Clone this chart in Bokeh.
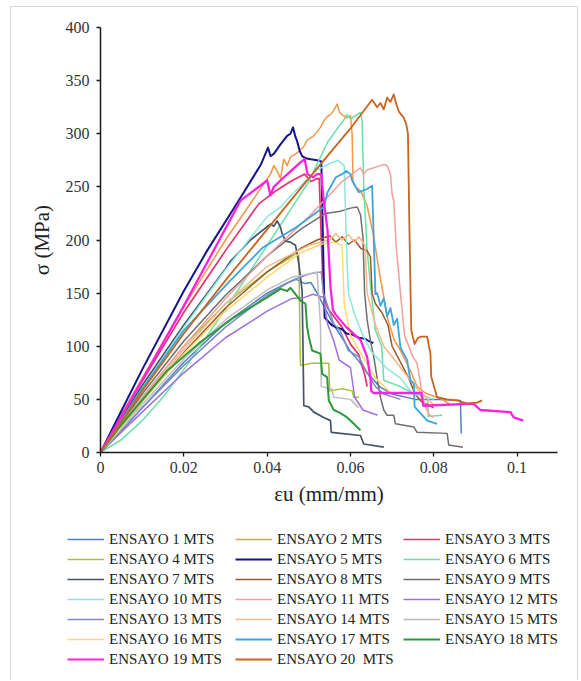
from bokeh.plotting import figure
from bokeh.models import Legend, LegendItem, FixedTicker
from bokeh.embed import file_html
from bokeh.resources import INLINE

# ---------------- data (strain mm/mm, stress MPa) ----------------
eps_1 = [0, 0.005, 0.01, 0.02, 0.03, 0.04, 0.045, 0.047, 0.049, 0.0505, 0.052, 0.054, 0.056, 0.058, 0.060, 0.062, 0.064, 0.067, 0.070, 0.0755, 0.080, 0.0864, 0.0866]
sig_1 = [0, 20, 42, 85, 122, 150, 160, 163, 159, 160, 150, 135, 120, 108, 95, 86, 75, 62, 55, 50, 50, 49, 18]

eps_2 = [0, 0.005, 0.01, 0.02, 0.03, 0.0408, 0.0416, 0.0424, 0.0432, 0.0440, 0.0448, 0.0456, 0.0472, 0.0488, 0.0496, 0.0512, 0.0528, 0.0536, 0.0544, 0.0552, 0.056, 0.0568, 0.0574, 0.058, 0.059, 0.060, 0.0604, 0.0606, 0.0612, 0.0625, 0.064, 0.0655, 0.067, 0.069, 0.0705, 0.072, 0.0745, 0.076, 0.078, 0.082, 0.084]
sig_2 = [0, 36, 70, 137, 200, 262, 270, 265, 258, 276, 270, 278, 282, 288, 294, 298, 306, 312, 316, 318, 322, 328, 320, 318, 315, 317, 300, 255, 250, 246, 232, 205, 168, 125, 106, 96, 76, 62, 56, 50, 45]

eps_3 = [0, 0.005, 0.01, 0.02, 0.03, 0.038, 0.042, 0.044, 0.046, 0.048, 0.049, 0.0505, 0.0515, 0.0525, 0.053, 0.0535, 0.0545, 0.056, 0.058, 0.060, 0.062, 0.0635, 0.064]
sig_3 = [0, 34, 67, 132, 190, 234, 246, 251, 256, 260, 262, 255, 257, 258, 200, 150, 136, 128, 118, 102, 92, 72, 62]

eps_4 = [0, 0.005, 0.01, 0.02, 0.03, 0.04, 0.045, 0.0472, 0.0476, 0.0478, 0.048, 0.0508, 0.0548, 0.0550, 0.058, 0.0604, 0.0608, 0.062]
sig_4 = [0, 26, 52, 100, 140, 170, 182, 188, 186, 130, 82, 84, 84, 58, 60, 58, 52, 52]

eps_5 = [0, 0.005, 0.01, 0.02, 0.0256, 0.033, 0.0385, 0.0402, 0.0408, 0.0416, 0.0432, 0.0448, 0.0456, 0.0462, 0.0468, 0.0472, 0.0478, 0.0484, 0.0492, 0.0505, 0.052, 0.053, 0.0534, 0.0538, 0.0545, 0.0555, 0.0565, 0.058, 0.059, 0.0605, 0.062, 0.0635, 0.0648, 0.0655]
sig_5 = [0, 39, 78, 152, 190, 236, 271, 287, 279, 281, 290, 298, 300, 306, 297, 293, 284, 279, 277, 276, 275, 274, 200, 127, 124, 120, 118, 116, 112, 111, 108, 107, 104, 103]

eps_6 = [0, 0.005, 0.01, 0.015, 0.02, 0.03, 0.04, 0.05, 0.0545, 0.0576, 0.0584, 0.0592, 0.0600, 0.0608, 0.0616, 0.0624, 0.0628, 0.0632, 0.064, 0.065, 0.066, 0.0675, 0.068, 0.072, 0.075, 0.0785, 0.0787, 0.082]
sig_6 = [0, 12, 30, 52, 78, 135, 195, 255, 292, 309, 313, 318, 314, 316, 318, 320, 312, 250, 190, 150, 115, 100, 68, 62, 56, 52, 34, 35]

eps_7 = [0, 0.005, 0.01, 0.02, 0.03, 0.0312, 0.036, 0.0408, 0.0416, 0.0424, 0.0432, 0.0436, 0.0444, 0.0456, 0.0468, 0.0472, 0.0476, 0.048, 0.0484, 0.0486, 0.0488, 0.050, 0.0512, 0.0536, 0.0552, 0.0554, 0.0576, 0.0624, 0.0632, 0.068]
sig_7 = [0, 32, 63, 120, 173, 180, 200, 215, 213, 218, 212, 206, 199, 198, 195, 187, 178, 165, 152, 100, 44, 43, 38, 33, 30, 19, 18, 16, 8, 5]

eps_8 = [0, 0.005, 0.01, 0.02, 0.03, 0.04, 0.048, 0.052, 0.055, 0.0565, 0.058, 0.0595, 0.061, 0.0625, 0.064, 0.0648, 0.0652, 0.066, 0.0675, 0.069, 0.070, 0.072, 0.074, 0.0755, 0.077, 0.080]
sig_8 = [0, 24, 48, 94, 136, 170, 192, 200, 204, 198, 203, 196, 200, 192, 190, 184, 150, 140, 132, 120, 100, 85, 70, 55, 48, 42]

eps_9 = [0, 0.005, 0.01, 0.02, 0.03, 0.04, 0.048, 0.054, 0.0576, 0.0600, 0.0616, 0.0624, 0.0630, 0.0634, 0.0640, 0.0648, 0.0656, 0.0664, 0.0672, 0.0680, 0.0688, 0.0704, 0.0708, 0.0752, 0.0760, 0.0832, 0.0836, 0.087]
sig_9 = [0, 28, 55, 105, 148, 185, 210, 225, 227, 230, 231, 224, 203, 150, 125, 105, 90, 70, 52, 40, 35, 35, 27, 24, 19, 18, 7, 5]

eps_10 = [0, 0.005, 0.01, 0.02, 0.03, 0.04, 0.0432, 0.046, 0.0496, 0.052, 0.055, 0.057, 0.0585, 0.059, 0.0595, 0.061, 0.063, 0.065, 0.0685, 0.072, 0.075, 0.0785, 0.080]
sig_10 = [0, 30, 60, 118, 172, 222, 231, 243, 257, 266, 272, 275, 270, 200, 150, 130, 110, 95, 80, 70, 55, 52, 50]

eps_11 = [0, 0.005, 0.01, 0.02, 0.03, 0.04, 0.05, 0.058, 0.0624, 0.0632, 0.064, 0.0656, 0.0672, 0.068, 0.0688, 0.0696, 0.070, 0.0704, 0.071, 0.072, 0.073, 0.075, 0.076, 0.077, 0.078, 0.079, 0.080]
sig_11 = [0, 26, 52, 100, 145, 185, 222, 255, 268, 262, 266, 268, 270, 271, 270, 262, 243, 237, 193, 150, 110, 90, 84, 60, 43, 35, 33]

eps_12 = [0, 0.005, 0.01, 0.02, 0.03, 0.04, 0.046, 0.049, 0.051, 0.0535, 0.0545, 0.056, 0.0573, 0.060, 0.061, 0.063, 0.0665]
sig_12 = [0, 19, 38, 75, 108, 133, 145, 146, 149, 146, 121, 105, 87, 80, 52, 40, 35]

eps_13 = [0, 0.005, 0.01, 0.02, 0.03, 0.04, 0.046, 0.050, 0.053, 0.0535, 0.056, 0.0575, 0.0595, 0.062, 0.064, 0.066, 0.068, 0.072]
sig_13 = [0, 21, 42, 82, 118, 148, 162, 168, 170, 150, 121, 115, 96, 90, 75, 62, 55, 50]

eps_14 = [0, 0.005, 0.01, 0.02, 0.03, 0.04, 0.05, 0.055, 0.0565, 0.058, 0.0595, 0.061, 0.062, 0.0635, 0.064, 0.066, 0.068, 0.072, 0.076, 0.080]
sig_14 = [0, 25, 50, 97, 140, 175, 195, 200, 206, 200, 205, 198, 203, 195, 150, 120, 100, 80, 60, 45]

eps_15 = [0, 0.005, 0.01, 0.02, 0.03, 0.04, 0.046, 0.050, 0.052, 0.0528, 0.053, 0.0555, 0.056, 0.060, 0.062]
sig_15 = [0, 23, 45, 88, 125, 153, 165, 168, 170, 120, 62, 60, 52, 50, 42]

eps_16 = [0, 0.005, 0.01, 0.02, 0.03, 0.04, 0.048, 0.053, 0.056, 0.058, 0.0585, 0.060, 0.063, 0.066, 0.070]
sig_16 = [0, 24, 48, 93, 133, 165, 188, 196, 198, 195, 140, 110, 90, 70, 55]

eps_17 = [0, 0.005, 0.01, 0.02, 0.0312, 0.039, 0.047, 0.0536, 0.0545, 0.0565, 0.058, 0.059, 0.060, 0.0604, 0.062, 0.064, 0.0652, 0.0656, 0.066, 0.0664, 0.0672, 0.068, 0.0688, 0.0696, 0.0704, 0.0712, 0.072, 0.0736, 0.0744, 0.0752, 0.0754, 0.0768, 0.0784, 0.0808]
sig_17 = [0, 30, 60, 115, 162, 193, 212, 231, 245, 259, 262, 265, 262, 256, 245, 248, 251, 200, 149, 150, 138, 145, 128, 136, 120, 126, 99, 87, 68, 65, 43, 37, 30, 27]

eps_18 = [0, 0.004, 0.008, 0.016, 0.024, 0.032, 0.04, 0.0432, 0.0448, 0.0456, 0.0468, 0.048, 0.0492, 0.0496, 0.050, 0.0508, 0.0528, 0.0532, 0.0544, 0.0548, 0.056, 0.0576, 0.0592, 0.0608, 0.0624]
sig_18 = [0, 21, 40, 77, 104, 127, 146, 154, 152, 155, 149, 143, 140, 118, 109, 96, 93, 74, 71, 49, 40, 37, 33, 27, 21]

eps_19 = [0, 0.005, 0.01, 0.02, 0.0336, 0.040, 0.0408, 0.0416, 0.0432, 0.046, 0.048, 0.049, 0.0497, 0.051, 0.052, 0.053, 0.0535, 0.0545, 0.0552, 0.0558, 0.0564, 0.059, 0.0624, 0.064, 0.0648, 0.065, 0.0655, 0.077, 0.0775, 0.0895, 0.0912, 0.0984, 0.0992, 0.1015]
sig_19 = [0, 34, 68, 138, 237, 256, 242, 250, 256, 266, 273, 276, 262, 259, 262, 262, 240, 209, 156, 134, 130, 118, 106, 90, 70, 58, 56, 56, 44, 46, 40, 38, 33, 30]

eps_20 = [0, 0.005, 0.01, 0.02, 0.03, 0.04, 0.05, 0.06, 0.0652, 0.0664, 0.0672, 0.068, 0.0688, 0.0696, 0.0704, 0.071, 0.0716, 0.0722, 0.0728, 0.0734, 0.0738, 0.0742, 0.0746, 0.0754, 0.0762, 0.0770, 0.0784, 0.0792, 0.0794, 0.0808, 0.0832, 0.0856, 0.088, 0.0904, 0.0916]
sig_20 = [0, 29, 58, 112, 162, 210, 258, 305, 332, 325, 329, 323, 334, 330, 337, 328, 321, 318, 315, 309, 300, 200, 115, 102, 108, 109, 109, 93, 71, 52, 50, 49, 46, 47, 49]

series_labels = ["ENSAYO 1 MTS", "ENSAYO 2 MTS", "ENSAYO 3 MTS", "ENSAYO 4 MTS", "ENSAYO 5 MTS",
                 "ENSAYO 6 MTS", "ENSAYO 7 MTS", "ENSAYO 8 MTS", "ENSAYO 9 MTS", "ENSAYO 10 MTS",
                 "ENSAYO 11 MTS", "ENSAYO 12 MTS", "ENSAYO 13 MTS", "ENSAYO 14 MTS", "ENSAYO 15 MTS",
                 "ENSAYO 16 MTS", "ENSAYO 17 MTS", "ENSAYO 18 MTS", "ENSAYO 19 MTS", "ENSAYO 20  MTS"]

x_ticks = [0, 0.02, 0.04, 0.06, 0.08, 0.1]
x_tick_labels = ["0", "0.02", "0.04", "0.06", "0.08", "0.1"]
y_ticks = [0, 50, 100, 150, 200, 250, 300, 350, 400]

# ---------------- styles ----------------
colors = ["#4F81BD", "#F79646", "#E5326C", "#A5C13A", "#14148C",
          "#66E0A3", "#44546A", "#9C5B2A", "#6E6E6E", "#8AE8DC",
          "#F2A09E", "#A070DC", "#7F8CC8", "#F5B88A", "#BDBDBD",
          "#FFD870", "#3AA6DD", "#2E9A3A", "#FF22DD", "#C8641E"]
widths = [1.5, 1.5, 1.7, 1.5, 2.0, 1.5, 1.7, 1.5, 1.5, 1.5,
          1.5, 1.5, 1.5, 1.5, 1.5, 1.5, 1.8, 2.0, 2.3, 1.8]

all_eps = [eps_1, eps_2, eps_3, eps_4, eps_5, eps_6, eps_7, eps_8, eps_9, eps_10,
           eps_11, eps_12, eps_13, eps_14, eps_15, eps_16, eps_17, eps_18, eps_19, eps_20]
all_sig = [sig_1, sig_2, sig_3, sig_4, sig_5, sig_6, sig_7, sig_8, sig_9, sig_10,
           sig_11, sig_12, sig_13, sig_14, sig_15, sig_16, sig_17, sig_18, sig_19, sig_20]

FONT = "Liberation Serif"
BORDER = "1px solid #d9d9d9"

# ---------------- main chart ----------------
p = figure(width=568, height=505, x_range=(0, 0.1097), y_range=(0, 400),
           output_backend="svg", toolbar_location=None,
           min_border_left=89, min_border_right=22, min_border_top=20, min_border_bottom=60)
p.margin = (6, 0, 0, 10)
p.styles = {"border-top": BORDER, "border-left": BORDER, "border-right": BORDER}

for e, s, c, w in zip(all_eps, all_sig, colors, widths):
    p.line(e, s, line_color=c, line_width=w, line_join="round")

p.grid.visible = False
p.outline_line_color = None
p.background_fill_color = "white"
p.border_fill_color = "white"

p.xaxis.ticker = FixedTicker(ticks=x_ticks)
p.xaxis.major_label_overrides = {t: l for t, l in zip(x_ticks, x_tick_labels)}
p.yaxis.ticker = FixedTicker(ticks=y_ticks)
for ax in (p.xaxis, p.yaxis):
    ax.minor_tick_line_color = None
    ax.major_tick_in = 0
    ax.major_tick_out = 4
    ax.axis_line_color = "#1a1a1a"
    ax.axis_line_width = 1.5
    ax.major_tick_line_color = "#1a1a1a"
    ax.major_tick_line_width = 1.3
    ax.major_label_text_font = FONT
    ax.major_label_text_font_size = "16px"
    ax.major_label_text_color = "#333333"
    ax.axis_label_text_font = FONT
    ax.axis_label_text_font_style = "normal"
    ax.axis_label_text_font_size = "21px"
    ax.axis_label_text_color = "#222222"
p.xaxis.axis_label = "εu (mm/mm)"
p.yaxis.axis_label = "σ (MPa)"
p.yaxis.major_label_standoff = 7
p.xaxis.major_label_standoff = 5
p.yaxis.axis_label_standoff = 9
p.xaxis.axis_label_standoff = 6

# ---------------- legend (own canvas; 3 columns in row-major order) ----------------
leg = figure(width=568, height=169, x_range=(0, 1), y_range=(0, 1),
             output_backend="svg", toolbar_location=None,
             x_axis_location=None, y_axis_location=None,
             min_border_left=0, min_border_right=0, min_border_top=0, min_border_bottom=0)
leg.margin = (0, 0, 0, 10)
leg.styles = {"border-left": BORDER, "border-right": BORDER}
leg.grid.visible = False
leg.outline_line_color = None
leg.background_fill_color = "white"
leg.border_fill_color = "white"

col_items = [[], [], []]
for i, (c, w, lab) in enumerate(zip(colors, widths, series_labels)):
    # legend swatch only: a hidden stand-in renderer outside the visible range
    r = leg.line(x=[-1, -1], y=[-1, -1], line_color=c, line_width=min(w, 1.8))
    col_items[i % 3].append(LegendItem(label=lab, renderers=[r]))

col_x = [56, 224, 392]
for items, vx in zip(col_items, col_x):
    h = 20 * len(items)
    lg = Legend(items=items, location=(vx, 169 - 18 - h), orientation="vertical",
                glyph_width=37, glyph_height=20, label_height=20,
                label_standoff=5, spacing=0, padding=0, margin=0,
                label_text_font=FONT, label_text_font_size="15px", label_text_color="#222222",
                border_line_color=None, background_fill_alpha=0)
    leg.add_layout(lg)

open("out.html", "w").write(file_html([p, leg], INLINE))
